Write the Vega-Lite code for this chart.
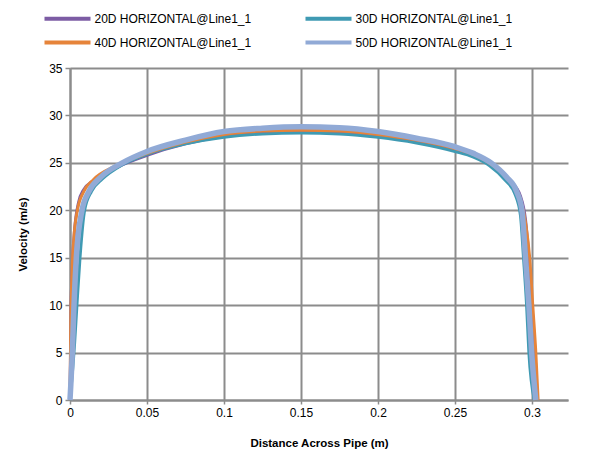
{
  "$schema": "https://vega.github.io/schema/vega-lite/v6.json",
  "width": 498,
  "height": 332,
  "autosize": {"type": "none"},
  "padding": {"left": 70, "top": 68, "right": 29, "bottom": 55},
  "background": "white",
  "config": {
    "font": "Liberation Sans",
    "view": {"stroke": null},
    "axis": {
      "domainColor": "#8c8c8c",
      "domainWidth": 2,
      "gridColor": "#8c8c8c",
      "gridWidth": 2,
      "tickColor": "#8c8c8c",
      "tickWidth": 1.5,
      "labelColor": "#000000",
      "labelFont": "Liberation Sans",
      "labelFontSize": 12,
      "titleFont": "Liberation Sans",
      "titleFontSize": 11.5,
      "titleFontWeight": "bold",
      "titleColor": "#000000"
    },
    "legend": {
      "labelFont": "Liberation Sans",
      "labelFontSize": 12,
      "labelColor": "#000000"
    }
  },
  "data": {
    "values": [
      {"series": "20D HORIZONTAL@Line1_1", "x": 0, "v": 0},
      {"series": "20D HORIZONTAL@Line1_1", "x": 0.0006, "v": 9},
      {"series": "20D HORIZONTAL@Line1_1", "x": 0.0015, "v": 14},
      {"series": "20D HORIZONTAL@Line1_1", "x": 0.003, "v": 18},
      {"series": "20D HORIZONTAL@Line1_1", "x": 0.0055, "v": 20.8},
      {"series": "20D HORIZONTAL@Line1_1", "x": 0.009, "v": 22.2},
      {"series": "20D HORIZONTAL@Line1_1", "x": 0.015, "v": 23.1},
      {"series": "20D HORIZONTAL@Line1_1", "x": 0.03, "v": 24.5},
      {"series": "20D HORIZONTAL@Line1_1", "x": 0.05, "v": 25.8},
      {"series": "20D HORIZONTAL@Line1_1", "x": 0.075, "v": 27.0},
      {"series": "20D HORIZONTAL@Line1_1", "x": 0.1, "v": 27.8},
      {"series": "20D HORIZONTAL@Line1_1", "x": 0.125, "v": 28.2},
      {"series": "20D HORIZONTAL@Line1_1", "x": 0.15, "v": 28.3},
      {"series": "20D HORIZONTAL@Line1_1", "x": 0.175, "v": 28.2},
      {"series": "20D HORIZONTAL@Line1_1", "x": 0.2, "v": 27.9},
      {"series": "20D HORIZONTAL@Line1_1", "x": 0.225, "v": 27.3},
      {"series": "20D HORIZONTAL@Line1_1", "x": 0.25, "v": 26.4},
      {"series": "20D HORIZONTAL@Line1_1", "x": 0.262, "v": 25.8},
      {"series": "20D HORIZONTAL@Line1_1", "x": 0.274, "v": 24.8},
      {"series": "20D HORIZONTAL@Line1_1", "x": 0.286, "v": 23.1},
      {"series": "20D HORIZONTAL@Line1_1", "x": 0.2925, "v": 21.5},
      {"series": "20D HORIZONTAL@Line1_1", "x": 0.2958, "v": 19},
      {"series": "20D HORIZONTAL@Line1_1", "x": 0.298, "v": 15},
      {"series": "20D HORIZONTAL@Line1_1", "x": 0.3, "v": 10},
      {"series": "20D HORIZONTAL@Line1_1", "x": 0.302, "v": 5},
      {"series": "20D HORIZONTAL@Line1_1", "x": 0.3035, "v": 0},

      {"series": "30D HORIZONTAL@Line1_1", "x": 0, "v": 0},
      {"series": "30D HORIZONTAL@Line1_1", "x": 0.003, "v": 6},
      {"series": "30D HORIZONTAL@Line1_1", "x": 0.0045, "v": 10},
      {"series": "30D HORIZONTAL@Line1_1", "x": 0.0065, "v": 15},
      {"series": "30D HORIZONTAL@Line1_1", "x": 0.0095, "v": 20},
      {"series": "30D HORIZONTAL@Line1_1", "x": 0.014, "v": 22},
      {"series": "30D HORIZONTAL@Line1_1", "x": 0.021, "v": 23.3},
      {"series": "30D HORIZONTAL@Line1_1", "x": 0.034, "v": 24.8},
      {"series": "30D HORIZONTAL@Line1_1", "x": 0.05, "v": 25.9},
      {"series": "30D HORIZONTAL@Line1_1", "x": 0.075, "v": 27.0},
      {"series": "30D HORIZONTAL@Line1_1", "x": 0.1, "v": 27.7},
      {"series": "30D HORIZONTAL@Line1_1", "x": 0.125, "v": 28.05},
      {"series": "30D HORIZONTAL@Line1_1", "x": 0.15, "v": 28.15},
      {"series": "30D HORIZONTAL@Line1_1", "x": 0.175, "v": 28.05},
      {"series": "30D HORIZONTAL@Line1_1", "x": 0.2, "v": 27.7},
      {"series": "30D HORIZONTAL@Line1_1", "x": 0.225, "v": 27.1},
      {"series": "30D HORIZONTAL@Line1_1", "x": 0.25, "v": 26.2},
      {"series": "30D HORIZONTAL@Line1_1", "x": 0.262, "v": 25.6},
      {"series": "30D HORIZONTAL@Line1_1", "x": 0.2725, "v": 24.7},
      {"series": "30D HORIZONTAL@Line1_1", "x": 0.2825, "v": 23.2},
      {"series": "30D HORIZONTAL@Line1_1", "x": 0.289, "v": 21.7},
      {"series": "30D HORIZONTAL@Line1_1", "x": 0.2925, "v": 19.5},
      {"series": "30D HORIZONTAL@Line1_1", "x": 0.2945, "v": 15},
      {"series": "30D HORIZONTAL@Line1_1", "x": 0.2965, "v": 10},
      {"series": "30D HORIZONTAL@Line1_1", "x": 0.298, "v": 5},
      {"series": "30D HORIZONTAL@Line1_1", "x": 0.3015, "v": 0},

      {"series": "40D HORIZONTAL@Line1_1", "x": 0, "v": 0},
      {"series": "40D HORIZONTAL@Line1_1", "x": 0.0005, "v": 8},
      {"series": "40D HORIZONTAL@Line1_1", "x": 0.0012, "v": 13},
      {"series": "40D HORIZONTAL@Line1_1", "x": 0.0025, "v": 17},
      {"series": "40D HORIZONTAL@Line1_1", "x": 0.0048, "v": 20},
      {"series": "40D HORIZONTAL@Line1_1", "x": 0.009, "v": 22},
      {"series": "40D HORIZONTAL@Line1_1", "x": 0.015, "v": 23.2},
      {"series": "40D HORIZONTAL@Line1_1", "x": 0.03, "v": 24.7},
      {"series": "40D HORIZONTAL@Line1_1", "x": 0.05, "v": 26.0},
      {"series": "40D HORIZONTAL@Line1_1", "x": 0.075, "v": 27.2},
      {"series": "40D HORIZONTAL@Line1_1", "x": 0.1, "v": 28.0},
      {"series": "40D HORIZONTAL@Line1_1", "x": 0.125, "v": 28.35},
      {"series": "40D HORIZONTAL@Line1_1", "x": 0.15, "v": 28.45},
      {"series": "40D HORIZONTAL@Line1_1", "x": 0.175, "v": 28.35},
      {"series": "40D HORIZONTAL@Line1_1", "x": 0.2, "v": 28.0},
      {"series": "40D HORIZONTAL@Line1_1", "x": 0.225, "v": 27.4},
      {"series": "40D HORIZONTAL@Line1_1", "x": 0.25, "v": 26.5},
      {"series": "40D HORIZONTAL@Line1_1", "x": 0.262, "v": 25.9},
      {"series": "40D HORIZONTAL@Line1_1", "x": 0.274, "v": 24.8},
      {"series": "40D HORIZONTAL@Line1_1", "x": 0.286, "v": 23.0},
      {"series": "40D HORIZONTAL@Line1_1", "x": 0.2925, "v": 21.2},
      {"series": "40D HORIZONTAL@Line1_1", "x": 0.296, "v": 18.5},
      {"series": "40D HORIZONTAL@Line1_1", "x": 0.2985, "v": 15},
      {"series": "40D HORIZONTAL@Line1_1", "x": 0.3005, "v": 10},
      {"series": "40D HORIZONTAL@Line1_1", "x": 0.3025, "v": 5},
      {"series": "40D HORIZONTAL@Line1_1", "x": 0.304, "v": 0},

      {"series": "50D HORIZONTAL@Line1_1", "x": 0, "v": 0},
      {"series": "50D HORIZONTAL@Line1_1", "x": 0.0015, "v": 5},
      {"series": "50D HORIZONTAL@Line1_1", "x": 0.0026, "v": 10},
      {"series": "50D HORIZONTAL@Line1_1", "x": 0.0041, "v": 15},
      {"series": "50D HORIZONTAL@Line1_1", "x": 0.0078, "v": 20},
      {"series": "50D HORIZONTAL@Line1_1", "x": 0.0123, "v": 22},
      {"series": "50D HORIZONTAL@Line1_1", "x": 0.02, "v": 23.5},
      {"series": "50D HORIZONTAL@Line1_1", "x": 0.034, "v": 25},
      {"series": "50D HORIZONTAL@Line1_1", "x": 0.05, "v": 26.2},
      {"series": "50D HORIZONTAL@Line1_1", "x": 0.075, "v": 27.4},
      {"series": "50D HORIZONTAL@Line1_1", "x": 0.1, "v": 28.3},
      {"series": "50D HORIZONTAL@Line1_1", "x": 0.125, "v": 28.65},
      {"series": "50D HORIZONTAL@Line1_1", "x": 0.15, "v": 28.8},
      {"series": "50D HORIZONTAL@Line1_1", "x": 0.175, "v": 28.7},
      {"series": "50D HORIZONTAL@Line1_1", "x": 0.2, "v": 28.3},
      {"series": "50D HORIZONTAL@Line1_1", "x": 0.225, "v": 27.6},
      {"series": "50D HORIZONTAL@Line1_1", "x": 0.25, "v": 26.7},
      {"series": "50D HORIZONTAL@Line1_1", "x": 0.262, "v": 26.0},
      {"series": "50D HORIZONTAL@Line1_1", "x": 0.2735, "v": 25},
      {"series": "50D HORIZONTAL@Line1_1", "x": 0.2835, "v": 23.5},
      {"series": "50D HORIZONTAL@Line1_1", "x": 0.29, "v": 22},
      {"series": "50D HORIZONTAL@Line1_1", "x": 0.2935, "v": 20},
      {"series": "50D HORIZONTAL@Line1_1", "x": 0.2958, "v": 15},
      {"series": "50D HORIZONTAL@Line1_1", "x": 0.298, "v": 10},
      {"series": "50D HORIZONTAL@Line1_1", "x": 0.2998, "v": 5},
      {"series": "50D HORIZONTAL@Line1_1", "x": 0.3025, "v": 0}
    ]
  },
  "encoding": {
    "x": {
      "field": "x",
      "type": "quantitative",
      "title": "Distance Across Pipe (m)",
      "scale": {"domain": [0, 0.3234], "nice": false, "zero": false},
      "axis": {
        "values": [0, 0.05, 0.1, 0.15, 0.2, 0.25, 0.3],
        "format": "~g",
        "tickSize": 4,
        "labelPadding": 3,
        "titlePadding": 19,
        "labelFlush": false
      }
    },
    "y": {
      "field": "v",
      "type": "quantitative",
      "title": "Velocity (m/s)",
      "scale": {"domain": [0, 35], "nice": false},
      "axis": {
        "values": [0, 5, 10, 15, 20, 25, 30, 35],
        "tickSize": 5,
        "labelPadding": 3,
        "titlePadding": 20
      }
    },
    "color": {
      "field": "series",
      "type": "nominal",
      "scale": {
        "domain": ["20D HORIZONTAL@Line1_1", "30D HORIZONTAL@Line1_1", "40D HORIZONTAL@Line1_1", "50D HORIZONTAL@Line1_1"],
        "range": ["#7c5ca4", "#3f9ab3", "#e6843a", "#91aad6"]
      },
      "legend": {
        "title": null,
        "orient": "none",
        "direction": "horizontal",
        "legendX": -16,
        "legendY": -63,
        "columns": 2,
        "symbolType": "M-2,0H2",
        "symbolSize": 529,
        "symbolStrokeWidth": 4,
        "labelOffset": 13.5,
        "labelLimit": 300,
        "columnPadding": 45,
        "rowPadding": 2
      }
    }
  },
  "layer": [
    {"transform": [{"filter": "datum.series === '20D HORIZONTAL@Line1_1'"}], "mark": {"type": "line", "interpolate": "monotone", "strokeWidth": 3}},
    {"transform": [{"filter": "datum.series === '30D HORIZONTAL@Line1_1'"}], "mark": {"type": "line", "interpolate": "monotone", "strokeWidth": 3}},
    {"transform": [{"filter": "datum.series === '40D HORIZONTAL@Line1_1'"}], "mark": {"type": "line", "interpolate": "monotone", "strokeWidth": 3}},
    {"transform": [{"filter": "datum.series === '50D HORIZONTAL@Line1_1'"}], "mark": {"type": "line", "interpolate": "monotone", "strokeWidth": 5.5}}
  ]
}
